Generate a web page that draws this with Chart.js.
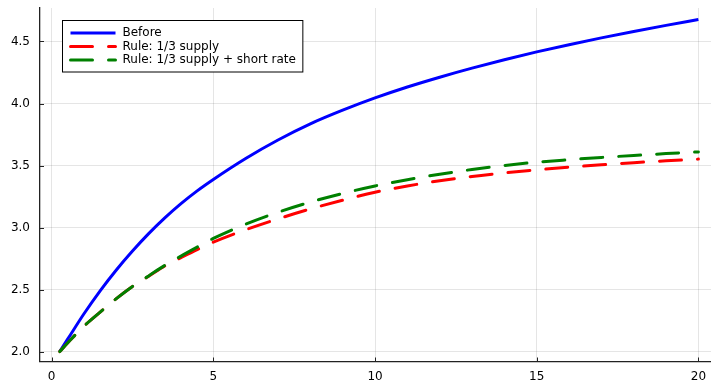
<!DOCTYPE html>
<html>
<head>
<meta charset="utf-8">
<script src="https://cdn.jsdelivr.net/npm/chart.js@4.4.1/dist/chart.umd.min.js"></script>
<style>
  html, body { margin: 0; padding: 0; background: #fff; }
  #wrap { width: 711px; height: 381px; }
</style>
</head>
<body>
<div id="wrap"><canvas id="myChart" width="711" height="381"></canvas></div>
<script>
// values
var tValues = [0.25, 0.5, 1, 1.5, 2, 2.5, 3, 3.5, 4, 4.5, 5, 6, 7, 8, 9, 10, 11, 12, 13, 14, 15, 16, 17, 18, 19, 20];
var before = [2.00, 2.102, 2.305, 2.49, 2.658, 2.811, 2.951, 3.078, 3.193, 3.296, 3.388, 3.557, 3.706, 3.836, 3.946, 4.045, 4.133, 4.212, 4.285, 4.353, 4.416, 4.474, 4.529, 4.581, 4.63, 4.677];
var ruleSupply = [2.00, 2.071, 2.205, 2.318, 2.427, 2.525, 2.607, 2.69, 2.757, 2.822, 2.882, 2.982, 3.07, 3.15, 3.22, 3.285, 3.335, 3.377, 3.412, 3.44, 3.465, 3.487, 3.506, 3.523, 3.538, 3.552];
var ruleSupplyShort = [2.00, 2.071, 2.205, 2.318, 2.427, 2.525, 2.61, 2.695, 2.77, 2.842, 2.912, 3.027, 3.123, 3.205, 3.275, 3.335, 3.386, 3.43, 3.468, 3.50, 3.527, 3.547, 3.565, 3.581, 3.596, 3.61];
var seriesLabels = ['Before', 'Rule: 1/3 supply', 'Rule: 1/3 supply + short rate'];
var xTicks = [0, 5, 10, 15, 20];
var yTicks = [2.0, 2.5, 3.0, 3.5, 4.0, 4.5];

function pts(vals) {
    return tValues.map(function (t, i) { return { x: t, y: vals[i] }; });
}

var FONT = '"DejaVu Sans", sans-serif';
var AXIS = '#222';

// legend box drawn inside the plot, top left
var legendBox = {
    id: 'legendBox',
    afterDraw: function (chart) {
        var ctx = chart.ctx;
        var a = chart.chartArea;
        var sets = chart.data.datasets;
        ctx.save();
        ctx.font = '12px ' + FONT;
        var w = Math.max.apply(null, sets.map(function (d) { return ctx.measureText(d.label).width; }));
        var x = a.left + 22.5, y = 20.5;
        var bw = 60 + w + 7, bh = 13.5 * sets.length + 11;
        ctx.fillStyle = '#fff';
        ctx.fillRect(x, y, bw, bh);
        ctx.strokeStyle = '#000';
        ctx.lineWidth = 1;
        ctx.strokeRect(x, y, bw, bh);
        sets.forEach(function (d, i) {
            var ly = y + 12.5 + i * 13.5;
            ctx.beginPath();
            ctx.strokeStyle = d.borderColor;
            ctx.lineWidth = d.borderWidth;
            ctx.lineCap = d.borderDash.length ? 'round' : 'butt';
            ctx.setLineDash(d.borderDash);
            ctx.moveTo(x + 8, ly);
            ctx.lineTo(x + 53, ly);
            ctx.stroke();
            ctx.setLineDash([]);
            ctx.fillStyle = '#000';
            ctx.textBaseline = 'middle';
            ctx.fillText(d.label, x + 60, ly);
        });
        ctx.restore();
    }
};

// small inward tick marks on both axes
var innerTicks = {
    id: 'innerTicks',
    afterDraw: function (chart) {
        var ctx = chart.ctx;
        var a = chart.chartArea;
        var xs = chart.scales.x, ys = chart.scales.y;
        ctx.save();
        ctx.strokeStyle = AXIS;
        ctx.lineWidth = 1;
        ctx.beginPath();
        xTicks.forEach(function (v) {
            var p = Math.round(xs.getPixelForValue(v)) + 0.5;
            ctx.moveTo(p, a.bottom);
            ctx.lineTo(p, a.bottom - 4);
        });
        yTicks.forEach(function (v) {
            var p = Math.round(ys.getPixelForValue(v)) + 0.5;
            ctx.moveTo(a.left, p);
            ctx.lineTo(a.left + 4, p);
        });
        ctx.stroke();
        ctx.restore();
    }
};

var ctx = document.getElementById('myChart').getContext('2d');

var myChart = new Chart(ctx, {
    type: 'line',
    data: {
        datasets: [{
            label: seriesLabels[0],
            data: pts(before),
            borderColor: '#0000ff',
            borderWidth: 3,
            borderDash: [],
            order: 2
        }, {
            label: seriesLabels[1],
            data: pts(ruleSupply),
            borderColor: '#ff0000',
            borderWidth: 3,
            borderDash: [22, 16],
            borderCapStyle: 'round',
            order: 1
        }, {
            label: seriesLabels[2],
            data: pts(ruleSupplyShort),
            borderColor: '#008000',
            borderWidth: 3,
            borderDash: [22, 16],
            borderCapStyle: 'round',
            order: 0
        }]
    },
    options: {
        responsive: false,
        animation: false,
        events: [],
        layout: { padding: { top: 8, right: 0, left: 0, bottom: 0 } },
        elements: {
            point: { radius: 0 },
            line: { cubicInterpolationMode: 'monotone', fill: false }
        },
        plugins: {
            legend: { display: false },
            tooltip: { enabled: false }
        },
        scales: {
            x: {
                type: 'linear',
                min: -0.36,
                max: 20.39,
                afterBuildTicks: function (s) { s.ticks = xTicks.map(function (v) { return { value: v }; }); },
                afterFit: function (s) { s.height = 19.5; s.paddingLeft = 0; s.paddingRight = 0; },
                grid: { color: 'rgba(0,0,0,0.1)', drawTicks: false },
                border: { color: AXIS, width: 1.3 },
                ticks: { padding: 8, color: '#000', font: { family: FONT, size: 12 }, maxRotation: 0 }
            },
            y: {
                type: 'linear',
                min: 1.92,
                max: 4.77,
                afterBuildTicks: function (s) { s.ticks = yTicks.map(function (v) { return { value: v }; }); },
                afterFit: function (s) { s.width = 40; s.paddingTop = 0; s.paddingBottom = 0; },
                grid: { color: 'rgba(0,0,0,0.1)', drawTicks: false },
                border: { color: AXIS, width: 1.3 },
                ticks: {
                    padding: 10,
                    color: '#000',
                    font: { family: FONT, size: 12 },
                    callback: function (v) { return Number(v).toFixed(1); }
                }
            }
        }
    },
    plugins: [legendBox, innerTicks]
});
</script>
</body>
</html>
